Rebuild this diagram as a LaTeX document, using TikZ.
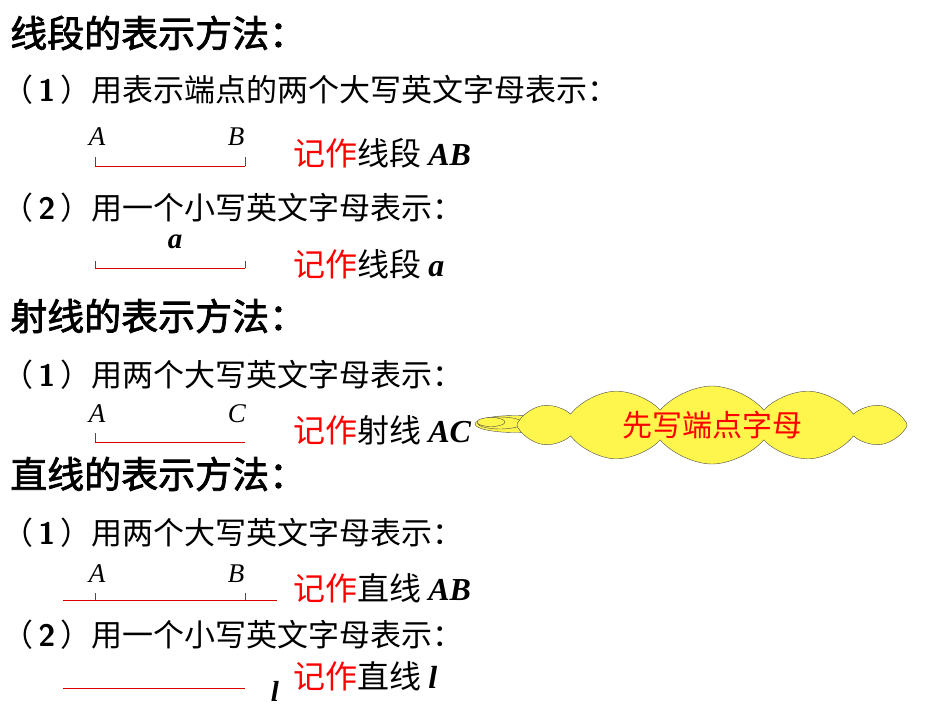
\documentclass[tikz,border=0pt]{standalone}
\usepackage{fontspec}
\setmainfont{Noto Sans CJK SC}[AutoFakeBold=2]
\newfontfamily\lat{Liberation Serif}
\usetikzlibrary{shapes.symbols,shapes.geometric}
\tikzset{
 head/.style={anchor=west,inner sep=0pt,font=\fontsize{37}{40}\selectfont\bfseries},
 sub/.style={anchor=west,inner sep=0pt,font=\fontsize{31}{34}\selectfont},
 note/.style={anchor=west,inner sep=0pt,font=\fontsize{32}{35}\selectfont},
 lab/.style={inner sep=0pt,font=\fontsize{27}{30}\selectfont\lat\itshape},
 blab/.style={inner sep=0pt,font=\fontsize{29}{32}\selectfont\lat\bfseries\itshape},
 seg/.style={red!85!black,line width=0.8pt},
 tick/.style={black!70,line width=0.6pt},
 bub/.style={ellipse,draw=black!70,fill=yellow!70,inner sep=0pt},
}
\newcommand{\jz}{\textcolor{red}{记作}}
\newcommand{\num}[1]{（\,{\sffamily\bfseries #1}\,）}
\begin{document}
\begin{tikzpicture}[x=1pt,y=-1pt]
\useasboundingbox[fill=white] (0,0) rectangle (950,713);
% section 1
\node[head] (h1) at (10,33) {线段的表示方法：};
\node[sub] (s1) at (2,90) {\num{1}用表示端点的两个大写英文字母表示：};
\coordinate (a1) at (95,166); \coordinate (b1) at (245,166);
\draw[seg] (a1) -- (b1);
\draw[tick] (a1) -- ++(0,-9) (b1) -- ++(0,-9);
\node[lab] (A1) at (97,137) {A};
\node[lab] (B1) at (236,137) {B};
\node[note] (n1) at (293,153) {\jz 线段 {\lat\bfseries\itshape AB}};
\node[sub] (s2) at (2,208) {\num{2}用一个小写英文字母表示：};
\coordinate (a2) at (95,268); \coordinate (b2) at (245,268);
\draw[seg] (a2) -- (b2);
\draw[tick] (a2) -- ++(0,-7) (b2) -- ++(0,-7);
\node[blab] (la) at (175,242) {a};
\node[note] (n2) at (293,264) {\jz 线段 {\lat\bfseries\itshape a}};
% section 2
\node[head] (h2) at (10,316) {射线的表示方法：};
\node[sub] (s3) at (2,375) {\num{1}用两个大写英文字母表示：};
\coordinate (a3) at (95,442); \coordinate (b3) at (245,442);
\draw[seg] (a3) -- (b3);
\draw[tick] (a3) -- ++(0,-9);
\node[lab] (A3) at (97,414) {A};
\node[lab] (C3) at (237,414) {C};
\node[note] (n3) at (293,430) {\jz 射线 {\lat\bfseries\itshape AC}};
% callout
\node[bub,minimum width=80pt,minimum height=17pt] (e1) at (515,424) {};
\node[bub,minimum width=45pt,minimum height=12pt] (e2) at (500,423) {};
\node[bub,minimum width=28pt,minimum height=9pt] (e3) at (491,422) {};
\node[cloud,cloud puffs=12,cloud puff arc=100,aspect=5.2,draw=black!70,fill=yellow!70,
 minimum width=390pt,minimum height=76pt,inner sep=0pt,font=\fontsize{30}{32}\selectfont,text=red] (cl) at (712,425) {先写端点字母};
% section 3
\node[head] (h3) at (10,474) {直线的表示方法：};
\node[sub] (s4) at (2,533) {\num{1}用两个大写英文字母表示：};
\coordinate (l1) at (63,600); \coordinate (r1) at (277,600);
\draw[seg] (l1) -- (r1);
\coordinate (t1) at (95,600); \coordinate (t2) at (245,600);
\draw[tick] (t1) -- ++(0,-7) (t2) -- ++(0,-7);
\node[lab] (A4) at (97,574) {A};
\node[lab] (B4) at (236,574) {B};
\node[note] (n4) at (293,588) {\jz 直线 {\lat\bfseries\itshape AB}};
\node[sub] (s5) at (2,635) {\num{2}用一个小写英文字母表示：};
\coordinate (l2) at (63,688); \coordinate (r2) at (245,688);
\draw[seg] (l2) -- (r2);
\node[blab] (ll) at (275,691) {l};
\node[note] (n5) at (293,676) {\jz 直线 {\lat\bfseries\itshape l}};
\end{tikzpicture}
\end{document}
